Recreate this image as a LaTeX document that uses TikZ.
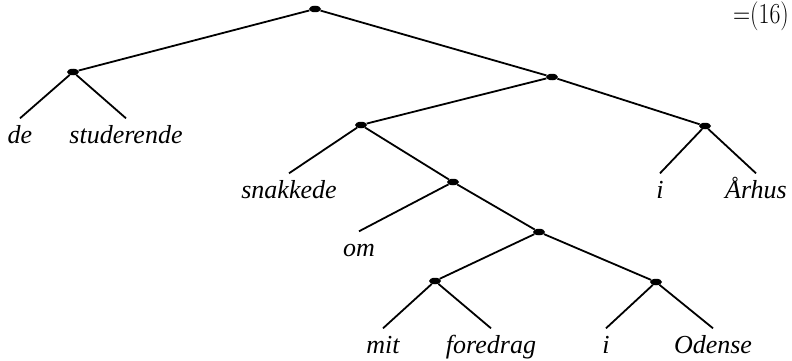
\documentclass[tikz,border=0pt]{standalone}
\usepackage{fontspec}
\usetikzlibrary{shapes.geometric}
\newfontfamily\wordfont{Liberation Serif}
\begin{document}
\begin{tikzpicture}[x=1pt,y=-1pt,
  branch/.style={line width=1.8pt,black},
  dot/.style={ellipse,fill=black,inner sep=0pt,minimum width=12pt,minimum height=6.5pt},
  word/.style={anchor=base,inner sep=0pt,text height=24.5pt,text depth=0pt,
    font=\wordfont\itshape\fontsize{26}{30}\selectfont}]
\useasboundingbox (0,0) rectangle (792,361);

% internal nodes
\node[dot] (r)   at (315,9)   {};
\node[dot] (np)  at (73,72)   {};
\node[dot] (vp)  at (552,77)  {};
\node[dot] (v1)  at (361,125) {};
\node[dot] (pp1) at (705,126) {};
\node[dot] (v2)  at (453,182) {};
\node[dot] (np2) at (539,232) {};
\node[dot] (n3)  at (435,281) {};
\node[dot] (pp2) at (656,282) {};

% words
\node[word] (w1)  at (20,143)  {de};
\node[word] (w2)  at (126,143) {studerende};
\node[word] (w3)  at (289,198) {snakkede};
\node[word] (w4)  at (359,256) {om};
\node[word] (w5)  at (383,353) {mit};
\node[word] (w6)  at (491,353) {foredrag};
\node[word] (w7)  at (606,353) {i};
\node[word] (w8)  at (713,353) {Odense};
\node[word] (w9)  at (660,198) {i};
\node[word] (w10) at (756,198) {Århus};

% branches
\draw[branch] (r) -- (np);
\draw[branch] (r) -- (vp);
\draw[branch] (np) -- (w1.north);
\draw[branch] (np) -- (w2.north);
\draw[branch] (vp) -- (v1);
\draw[branch] (vp) -- (pp1);
\draw[branch] (pp1) -- (w9.north);
\draw[branch] (pp1) -- (w10.north);
\draw[branch] (v1) -- (w3.north);
\draw[branch] (v1) -- (v2);
\draw[branch] (v2) -- (w4.north);
\draw[branch] (v2) -- (np2);
\draw[branch] (np2) -- (n3);
\draw[branch] (np2) -- (pp2);
\draw[branch] (n3) -- (w5.north);
\draw[branch] (n3) -- (w6.north);
\draw[branch] (pp2) -- (w7.north);
\draw[branch] (pp2) -- (w8.north);

% equation number
\node[anchor=base east,inner sep=0pt,xscale=0.82,font=\fontsize{29}{33}\selectfont] (eq) at (789,23.5) {=(16)};
\end{tikzpicture}
\end{document}
